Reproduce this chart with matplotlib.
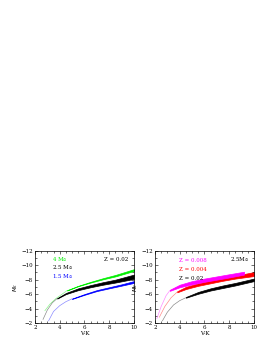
import matplotlib
matplotlib.use('Agg')
import matplotlib.pyplot as plt
from matplotlib.ticker import MultipleLocator

# ---- left panel: Z = 0.02, three masses ----
# each track: thin early part (x, M) and thick band (x, upper M, lower M)
g_thin_x = [2.8, 3.2, 3.7, 4.2, 4.6]
g_thin_m = [-3.7, -4.6, -5.4, -6.0, -6.5]
g_x = [4.6, 5.5, 6.5, 7.5, 8.5, 10.0]
g_up = [-6.55, -7.15, -7.7, -8.2, -8.65, -9.45]
g_lo = [-6.5, -7.1, -7.6, -8.05, -8.45, -9.2]

k_thin_x = [2.65, 3.0, 3.4, 3.8]
k_thin_m = [-2.5, -3.8, -4.8, -5.4]
k_x = [3.8, 4.5, 5.5, 6.5, 7.5, 8.5, 10.0]
k_up = [-5.45, -6.15, -6.8, -7.25, -7.65, -8.0, -8.7]
k_lo = [-5.38, -6.0, -6.55, -6.95, -7.3, -7.6, -8.1]

b_thin_x = [3.1, 3.5, 4.0, 4.5, 5.0]
b_thin_m = [-2.3, -3.6, -4.4, -4.95, -5.35]
b_x = [5.0, 6.0, 7.0, 8.0, 9.0, 10.0]
b_up = [-5.38, -6.0, -6.55, -6.95, -7.35, -7.8]
b_lo = [-5.33, -5.9, -6.42, -6.8, -7.17, -7.55]

# ---- right panel: 2.5 Msun, three metallicities ----
m_thin_x = [2.15, 2.5, 2.9, 3.2]
m_thin_m = [-2.6, -4.3, -5.8, -6.5]
m_x = [3.2, 4.0, 5.0, 6.0, 7.0, 8.0, 9.2]
m_up = [-6.6, -7.3, -7.8, -8.15, -8.45, -8.75, -9.1]
m_lo = [-6.45, -6.95, -7.35, -7.7, -8.0, -8.3, -8.7]

r_thin_x = [2.35, 2.8, 3.3, 3.8]
r_thin_m = [-2.8, -4.3, -5.5, -6.3]
r_x = [3.8, 4.5, 5.5, 6.5, 7.5, 8.5, 10.0]
r_up = [-6.4, -7.0, -7.5, -7.9, -8.25, -8.55, -9.05]
r_lo = [-6.25, -6.7, -7.15, -7.5, -7.85, -8.15, -8.5]

s_thin_x = [2.6, 3.0, 3.5, 4.0, 4.5]
s_thin_m = [-2.3, -3.5, -4.5, -5.1, -5.5]
s_x = [4.5, 5.5, 6.5, 7.5, 8.5, 10.0]
s_up = [-5.6, -6.3, -6.8, -7.2, -7.55, -8.15]
s_lo = [-5.5, -6.05, -6.5, -6.85, -7.2, -7.8]

left_tracks = [
    (g_thin_x, g_thin_m, g_x, g_up, g_lo, '#00ee00'),
    (k_thin_x, k_thin_m, k_x, k_up, k_lo, 'black'),
    (b_thin_x, b_thin_m, b_x, b_up, b_lo, '#0000ff'),
]
right_tracks = [
    (s_thin_x, s_thin_m, s_x, s_up, s_lo, 'black'),
    (r_thin_x, r_thin_m, r_x, r_up, r_lo, '#ff0000'),
    (m_thin_x, m_thin_m, m_x, m_up, m_lo, '#ff00ff'),
]

plt.rcParams['font.family'] = 'DejaVu Serif'
fs = 4

fig = plt.figure(figsize=(2.74, 3.54), dpi=100)
ax1 = fig.add_axes([0.1277, 0.0876, 0.361, 0.204])
ax2 = fig.add_axes([0.5657, 0.0876, 0.361, 0.204])


def draw(ax, tracks):
    for tx, tm, x, up, lo, c in tracks:
        ax.plot(tx, tm, color=c, lw=0.5, alpha=0.45)
        ax.fill_between(x, up, lo, color=c, lw=0.5, edgecolor=c)
    ax.set_xlim(2, 10)
    ax.set_ylim(-2, -12)
    ax.xaxis.set_major_locator(MultipleLocator(2))
    ax.xaxis.set_minor_locator(MultipleLocator(0.5))
    ax.yaxis.set_major_locator(MultipleLocator(2))
    ax.yaxis.set_minor_locator(MultipleLocator(1))
    ax.tick_params(which='both', direction='in', top=True, right=True,
                   labelsize=fs, width=0.4, pad=1.5)
    ax.tick_params(which='major', length=2.5)
    ax.tick_params(which='minor', length=1.3)
    for sp in ax.spines.values():
        sp.set_linewidth(0.5)
    ax.set_xlabel('V-K', fontsize=fs, labelpad=1)
    ax.set_ylabel(r'$M_K$', fontsize=fs, labelpad=1)


draw(ax1, left_tracks)
draw(ax2, right_tracks)

ax1.text(0.17, 0.86, r'4 M$_{\odot}$', color='#00ee00', fontsize=fs, transform=ax1.transAxes)
ax1.text(0.17, 0.74, r'2.5 M$_{\odot}$', color='black', fontsize=fs, transform=ax1.transAxes)
ax1.text(0.17, 0.62, r'1.5 M$_{\odot}$', color='#0000ff', fontsize=fs, transform=ax1.transAxes)
ax1.text(0.70, 0.86, 'Z = 0.02', color='black', fontsize=fs, transform=ax1.transAxes)

ax2.text(0.24, 0.84, 'Z = 0.008', color='#ff00ff', fontsize=fs, transform=ax2.transAxes)
ax2.text(0.24, 0.72, 'Z = 0.004', color='#ff0000', fontsize=fs, transform=ax2.transAxes)
ax2.text(0.24, 0.60, 'Z = 0.02', color='black', fontsize=fs, transform=ax2.transAxes)
ax2.text(0.76, 0.86, r'2.5M$_{\odot}$', color='black', fontsize=fs, transform=ax2.transAxes)

fig.savefig('out.png', dpi=100)
